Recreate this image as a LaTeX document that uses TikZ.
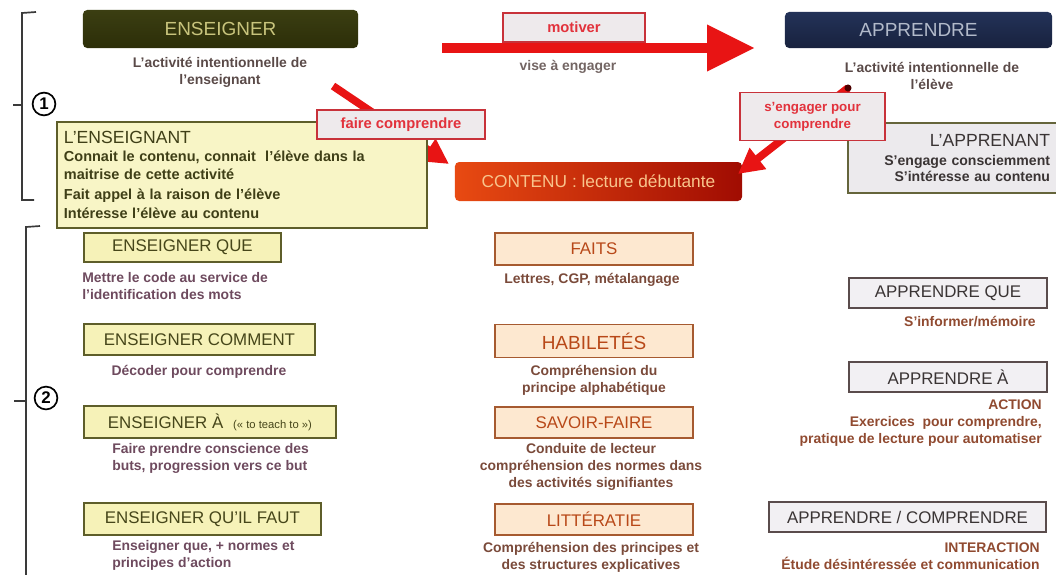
\documentclass[tikz,border=0pt]{standalone}
\usepackage{fontspec}
\setmainfont{Liberation Sans}
\usepackage{xcolor}
\usetikzlibrary{arrows.meta}

\definecolor{ensdark}{HTML}{3B3E12}
\definecolor{ensdarkb}{HTML}{2C2E08}
\definecolor{enstext}{HTML}{C8C47C}
\definecolor{appdark}{HTML}{233258}
\definecolor{appdarkb}{HTML}{18223E}
\definecolor{apptext}{HTML}{B2BACA}
\definecolor{redarrow}{HTML}{E81414}
\definecolor{lblfill}{HTML}{EEEAEC}
\definecolor{lbledge}{HTML}{C8323A}
\definecolor{lbltext}{HTML}{E2323C}
\definecolor{contl}{HTML}{E84A12}
\definecolor{contr}{HTML}{A00C02}
\definecolor{conttext}{HTML}{F8C48C}
\definecolor{olfill}{HTML}{F6F2B8}
\definecolor{oledge}{HTML}{5E5E2A}
\definecolor{oltext}{HTML}{46461A}
\definecolor{oldesc}{HTML}{6E4A5E}
\definecolor{pefill}{HTML}{FDE8D0}
\definecolor{peedge}{HTML}{A65A30}
\definecolor{petext}{HTML}{B84818}
\definecolor{pedesc}{HTML}{7A4A3A}
\definecolor{grfill}{HTML}{F2F0F3}
\definecolor{gredge}{HTML}{5A4C4C}
\definecolor{grtext}{HTML}{3A3434}
\definecolor{grdesc}{HTML}{904A30}
\definecolor{topdesc}{HTML}{5A4A48}
\definecolor{bracecol}{HTML}{3A3A3A}

\begin{document}
\begin{tikzpicture}[x=0.025cm,y=-0.025cm,
	titlebox/.style={rounded corners=3pt, inner sep=0pt, font=\fontsize{13.5}{14}\selectfont},
	colbox/.style={draw, line width=1.3pt, inner sep=0pt, font=\fontsize{12}{13}\selectfont},
	olbox/.style={colbox, fill=olfill, draw=oledge, text=oltext},
	pebox/.style={colbox, fill=pefill, draw=peedge, text=petext},
	grbox/.style={colbox, fill=grfill, draw=gredge, text=grtext},
	desc/.style={inner sep=0pt, font=\bfseries\fontsize{9.9}{12}\selectfont},
	lbl/.style={draw=lbledge, line width=1pt, fill=lblfill, text=lbltext, inner sep=0pt},
	bigarrow/.style={draw=redarrow, line width=7.8pt, -{Triangle[length=34pt,width=31pt]}},
	diagarrow/.style={draw=redarrow, line width=5.5pt, -{Triangle[length=18pt,width=18pt]}},
	brace/.style={draw=bracecol, line width=1.2pt},
	num/.style={circle, draw, line width=1.2pt, minimum size=0.57cm, inner sep=0pt, font=\bfseries\fontsize{12}{12}\selectfont}]
	\useasboundingbox (0,0) rectangle (1056,574);

	% brackets and numbers
	\draw[brace] (36,12) -- (22,13) -- (22,200) -- (34,200);
	\draw[brace] (22,105) -- (13,105);
	\node[num] (n1) at (44,104) {1};
	\draw[brace] (40,226) -- (26,227) -- (26,580);
	\draw[brace] (26,401) -- (14,401);
	\node[num] (n2) at (46,398) {2};

	% top row
	\node[titlebox, top color=ensdark, bottom color=ensdarkb, text=enstext, minimum width=6.875cm, minimum height=0.95cm] (ens) at (220.5,29) {ENSEIGNER};
	\node[desc, text=topdesc, align=center] (d-ens) at (220,72) {L'activité intentionnelle de\\l'enseignant};
	\node[titlebox, top color=appdark, bottom color=appdarkb, text=apptext, minimum width=6.675cm, minimum height=0.9cm] (app) at (918.5,30) {APPRENDRE};
	\node[desc, text=topdesc, align=center] (d-app) at (932,76) {L'activité intentionnelle de\\l'élève};

	\coordinate (mstart) at (442,48);
	\coordinate (mend) at (755,48);
	\draw[bigarrow] (mstart) -- (mend);
	\node[lbl, minimum width=3.55cm, minimum height=0.725cm, font=\bfseries\fontsize{10.5}{11}\selectfont] (motlbl) at (574,27.5) {motiver};
	\node[desc, text=topdesc!85] (d-mot) at (568,67) {vise à engager};

	\node[titlebox, left color=contl, right color=contr, text=conttext, minimum width=7.175cm, minimum height=0.975cm, font=\fontsize{12.3}{13}\selectfont] (cont) at (598.5,181.5) {CONTENU : lecture débutante};

	% faire comprendre
	\coordinate (fstart) at (333,86);
	\coordinate (fend) at (449,164);
	\draw[diagarrow] (fstart) -- (fend);

	\node[draw=oledge, line width=1.3pt, fill=olfill!80!white, text=oltext!90!black, minimum width=9.25cm, minimum height=2.65cm, text width=8.9cm, inner xsep=0.175cm, align=left] (enseignant) at (242,175) {%
		{\fontsize{12.5}{13}\selectfont L'ENSEIGNANT}\\[1pt]
		{\bfseries\fontsize{10.3}{12.3}\selectfont Connait le contenu, connait \ l'élève dans la\\maitrise de cette activité\\[2pt]
		Fait appel à la raison de l'élève\\[2pt]
		Intéresse l'élève au contenu}};
	\node[lbl, minimum width=4.2cm, minimum height=0.725cm, font=\bfseries\fontsize{10.5}{11}\selectfont] (faire) at (401,124.5) {faire comprendre};

	% s'engager pour comprendre
	\coordinate (sstart) at (848,88);
	\coordinate (send) at (738,174);
	\draw[diagarrow] (sstart) -- (send);
	\fill[black!70!red] (sstart) circle (2.5pt);

	\node[draw=oledge!80!gray, line width=1.3pt, fill=grfill!95!gray, text=grtext, minimum width=5.35cm, minimum height=1.75cm, text width=4.75cm, inner xsep=0.3cm, align=right] (apprenant) at (955,158) {%
		{\fontsize{12.5}{13}\selectfont L'APPRENANT}\\[1pt]
		{\bfseries\fontsize{10}{12.5}\selectfont S'engage consciemment\\S'intéresse au contenu}};
	\node[lbl, minimum width=3.625cm, minimum height=1.2cm, align=center, font=\bfseries\fontsize{9.5}{12}\selectfont] (sengager) at (812.5,116.5) {s'engager pour\\comprendre};

	% enseigner column
	\node[olbox, anchor=west, minimum width=4.925cm, minimum height=0.725cm] (eque) at (83,247.5) {ENSEIGNER QUE};
	\node[desc, text=oldesc, anchor=west, align=left] (d-eque) at (82,286) {Mettre le code au service de\\l'identification des mots};
	\node[olbox, anchor=west, minimum width=5.775cm, minimum height=0.775cm] (ecomment) at (83,339.5) {ENSEIGNER COMMENT};
	\node[desc, text=oldesc] (d-ecomment) at (199,372) {Décoder pour comprendre};
	\node[olbox, anchor=west, minimum width=6.3cm, minimum height=0.8cm] (ea) at (83,422) {ENSEIGNER À\hspace{7pt}{\fontsize{8}{8}\selectfont(« to teach to »)}};
	\node[desc, text=oldesc, anchor=west, align=left] (d-ea) at (112,458) {Faire prendre conscience des\\buts, progression vers ce but};
	\node[olbox, anchor=west, minimum width=5.925cm, minimum height=0.8cm] (efaut) at (83,519) {ENSEIGNER QU'IL FAUT};
	\node[desc, text=oldesc, anchor=west, align=left] (d-efaut) at (112,555) {Enseigner que, + normes et\\principes d'action};

	% contenu column
	\node[pebox, minimum width=4.95cm, minimum height=0.8cm] (faits) at (594,249) {FAITS};
	\node[desc, text=pedesc] (d-faits) at (592,280) {Lettres, CGP, métalangage};
	\node[pebox, minimum width=4.95cm, minimum height=0.825cm, font=\fontsize{13.5}{14}\selectfont] (habil) at (594,341) {HABILETÉS};
	\node[desc, text=pedesc, align=center] (d-habil) at (594,380) {Compréhension du\\principe alphabétique};
	\node[pebox, minimum width=4.95cm, minimum height=0.775cm] (savoir) at (594,422.5) {SAVOIR-FAIRE};
	\node[desc, text=pedesc, align=center] (d-savoir) at (591,467) {Conduite de lecteur\\compréhension des normes dans\\des activités signifiantes};
	\node[pebox, minimum width=4.95cm, minimum height=0.775cm] (litt) at (594,519.5) {LITTÉRATIE};
	\node[desc, text=pedesc, align=center] (d-litt) at (591,557) {Compréhension des principes et\\des structures explicatives};

	% apprendre column
	\node[grbox, minimum width=4.95cm, minimum height=0.75cm] (aque) at (948,293) {APPRENDRE QUE};
	\node[desc, text=grdesc, anchor=east] (d-aque) at (1036,322) {S'informer/mémoire};
	\node[grbox, minimum width=4.95cm, minimum height=0.75cm] (aa) at (948,377) {APPRENDRE À};
	\node[desc, text=grdesc, anchor=east, align=right] (d-aa) at (1042,423) {ACTION\\Exercices \ pour comprendre,\\pratique de lecture pour automatiser};
	\node[grbox, minimum width=6.925cm, minimum height=0.75cm] (acomp) at (907.5,517) {APPRENDRE / COMPRENDRE};
	\node[desc, text=grdesc, anchor=east, align=right] (d-acomp) at (1040,556) {INTERACTION\\Étude désintéressée et communication};
\end{tikzpicture}
\end{document}
